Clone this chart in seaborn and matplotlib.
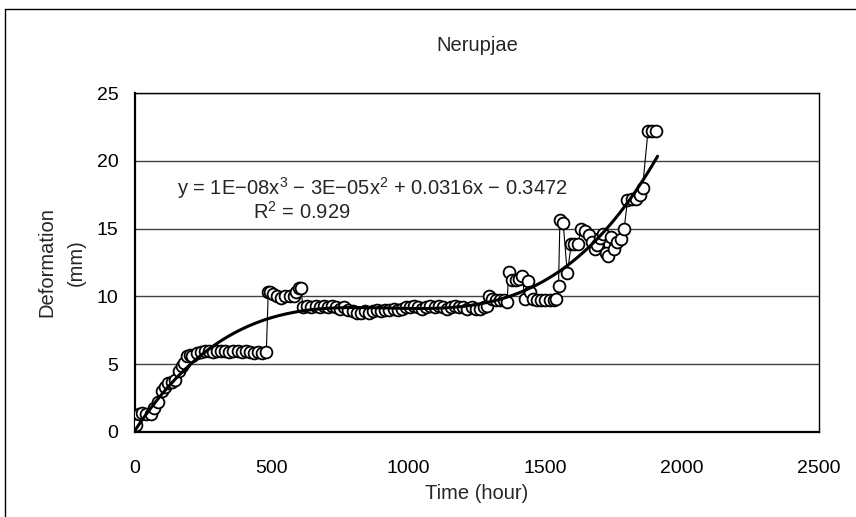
import numpy as np
import pandas as pd
import matplotlib
matplotlib.use("Agg")
import matplotlib.pyplot as plt
from matplotlib.lines import Line2D
import seaborn as sns

# ---- data ----
time_h = [5, 15, 25, 40, 60, 70, 85, 100, 110, 120, 135, 145, 160, 170, 180, 190,
          200, 210, 225, 240, 255, 270, 285, 300, 315, 330, 345, 360, 375, 390,
          405, 420, 435, 450, 465, 480,
          487, 495, 505, 520, 535, 550, 565, 580, 590, 600, 605,
          615, 630, 645, 660, 675, 690, 705, 720, 735, 750, 765, 780, 795, 810,
          825, 840, 855, 870, 885, 900, 915, 930, 945, 960, 975, 990, 1005, 1020,
          1035, 1050, 1065, 1080, 1095, 1110, 1125, 1140, 1155, 1170, 1185, 1200,
          1215, 1230, 1245, 1260, 1275, 1285,
          1293, 1306, 1320, 1335, 1350, 1360, 1366, 1378, 1392, 1405, 1415, 1425,
          1435, 1445, 1455, 1470, 1485, 1500, 1515, 1530, 1540, 1548,
          1553, 1565, 1580, 1595, 1605, 1620, 1630, 1645, 1660, 1670, 1680, 1690,
          1700, 1710, 1720, 1730, 1740, 1750, 1760, 1775, 1788,
          1800, 1815, 1830, 1845, 1855, 1875, 1890, 1905]
deform_mm = [0.5, 1.3, 1.4, 1.3, 1.3, 1.8, 2.2, 3.0, 3.3, 3.6, 3.7, 3.8, 4.5, 4.9, 5.1, 5.6,
             5.7, 5.6, 5.8, 5.9, 6.0, 6.0, 5.9, 6.0, 6.0, 6.0, 5.9, 6.0, 6.0, 5.9,
             6.0, 5.9, 5.8, 5.9, 5.8, 5.9,
             10.3, 10.3, 10.2, 10.0, 9.9, 10.0, 10.0, 10.0, 10.3, 10.6, 10.6,
             9.2, 9.3, 9.2, 9.3, 9.2, 9.3, 9.2, 9.3, 9.2, 9.1, 9.2, 9.0, 8.9, 8.8,
             8.8, 8.9, 8.8, 8.9, 9.0, 8.9, 9.0, 9.0, 9.1, 9.0, 9.1, 9.2, 9.2, 9.3,
             9.2, 9.1, 9.2, 9.3, 9.2, 9.3, 9.2, 9.1, 9.2, 9.3, 9.2, 9.2,
             9.1, 9.2, 9.1, 9.1, 9.2, 9.3,
             10.0, 9.8, 9.7, 9.7, 9.7, 9.6, 11.8, 11.2, 11.2, 11.3, 11.5, 9.8,
             11.1, 10.3, 9.8, 9.7, 9.7, 9.7, 9.7, 9.7, 9.8, 10.8,
             15.6, 15.4, 11.7, 13.9, 13.9, 13.9, 15.0, 14.8, 14.5, 14.0, 13.5, 13.8,
             14.3, 14.6, 13.2, 13.0, 14.4, 13.5, 14.0, 14.2, 15.0,
             17.1, 17.2, 17.2, 17.5, 18.0, 22.2, 22.2, 22.2]
x_ticks = [0, 500, 1000, 1500, 2000, 2500]
y_ticks = [0, 5, 10, 15, 20, 25]
title = "Nerupjae"
eq_text = "y = 1E\u221208x$^{3}$ \u2212 3E\u221205x$^{2}$ + 0.0316x \u2212 0.3472"
r2_text = "R$^{2}$ = 0.929"

df = pd.DataFrame({"t": time_h, "d": deform_mm})
coef = np.polyfit(df["t"], df["d"], 3)
t_fit = np.linspace(0, max(time_h) + 5, 300)
fit_df = pd.DataFrame({"t": t_fit, "d": np.polyval(coef, t_fit)})

sns.set_style("white")
plt.rcParams["font.family"] = ["Liberation Sans", "DejaVu Sans"]
plt.rcParams["mathtext.fontset"] = "custom"
plt.rcParams["mathtext.rm"] = "Liberation Sans"
plt.rcParams["mathtext.it"] = "Liberation Sans"

fig = plt.figure(figsize=(8.56, 5.17), dpi=100)
ax = fig.add_axes([135 / 856, 1 - 432 / 517, (819 - 135) / 856, (432 - 93) / 517])

sns.lineplot(data=df, x="t", y="d", ax=ax, color="black", lw=0.8,
             marker="o", markersize=8.5, markerfacecolor="white",
             markeredgecolor="black", markeredgewidth=1.3, estimator=None,
             sort=False, zorder=3)
sns.lineplot(data=fit_df, x="t", y="d", ax=ax, color="black", lw=2.2,
             estimator=None, zorder=4)

ax.set_xlim(0, 2500)
ax.set_ylim(0, 25)
ax.set_xticks(x_ticks)
ax.set_yticks(y_ticks)
ax.set_xticklabels([str(v) for v in x_ticks], fontsize=14)
ax.set_yticklabels([str(v) for v in y_ticks], fontsize=14)
ax.yaxis.grid(True, color="#404040", lw=1.0)
ax.xaxis.grid(False)
ax.set_axisbelow(True)
for s in ax.spines.values():
    s.set_color("black")
    s.set_linewidth(1.0)
ax.spines["bottom"].set_linewidth(1.6)
ax.spines["left"].set_linewidth(1.6)
ax.tick_params(axis="x", direction="in", length=5, width=1, pad=20, colors="black")
ax.tick_params(axis="y", direction="out", length=4, width=1, pad=8, colors="black")

ax.set_xlabel("Time (hour)", fontsize=14.5, labelpad=5)
ax.set_ylabel("Deformation\n(mm)", fontsize=14.5, labelpad=7.5, linespacing=1.75)
ax.set_title(title, fontsize=14.5, pad=30)

ax.text(0.061, 0.72, eq_text, transform=ax.transAxes, fontsize=14.5,
        ha="left", va="center")
ax.text(0.173, 0.648, r2_text, transform=ax.transAxes, fontsize=14.5,
        ha="left", va="center")

# outer figure frame (left and top edges visible in reference)
fig.add_artist(Line2D([5 / 856, 5 / 856], [0, 1 - 9 / 517], color="black", lw=1.0,
                      transform=fig.transFigure))
fig.add_artist(Line2D([5 / 856, 1], [1 - 9 / 517, 1 - 9 / 517], color="black", lw=1.0,
                      transform=fig.transFigure))

fig.savefig("out.png", dpi=100)
